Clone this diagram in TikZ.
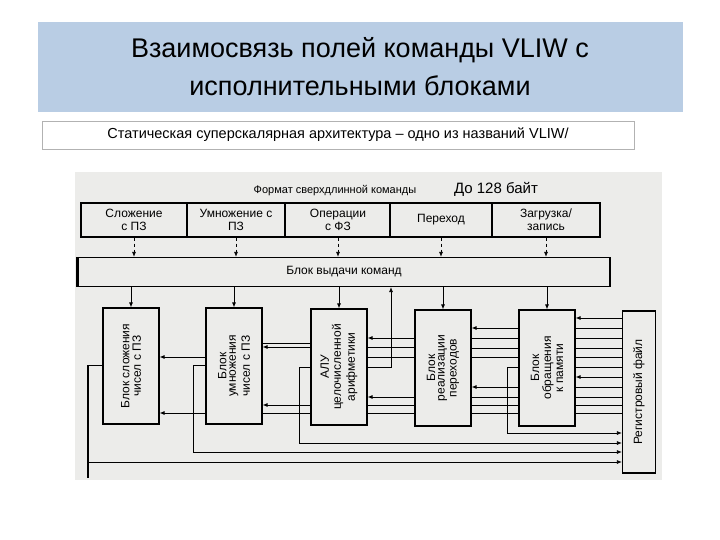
\documentclass[tikz,border=0pt]{standalone}
\usepackage{fontspec}
\setmainfont{Liberation Sans}
\usetikzlibrary{arrows.meta}
\definecolor{titlebg}{RGB}{185,205,228}
\definecolor{paper}{RGB}{236,236,234}
\begin{document}
\begin{tikzpicture}[x=1pt,y=-1pt,
  box/.style={draw,line width=1.2pt,inner sep=0pt,align=center,font=\fontsize{12}{13}\selectfont},
  unit/.style={box,minimum width=56pt,minimum height=116pt},
  ar/.style={-{Latex[length=5pt,width=4pt]},line width=0.8pt},
  ln/.style={line width=0.8pt},
  dar/.style={ar,dashed}]
\useasboundingbox (0,0) rectangle (720,540);
\fill[titlebg] (38,22) rectangle (683,112);
\node (title) at (360,67) [align=center,font=\fontsize{27}{38}\selectfont] {Взаимосвязь полей команды VLIW с\\исполнительными блоками};
\node (sub) at (338,135) [draw=gray!60,fill=white,minimum width=592pt,minimum height=28pt,inner sep=0pt,font=\fontsize{14.5}{16}\selectfont] {Статическая суперскалярная архитектура – одно из названий VLIW/};
\fill[paper] (75,172) rectangle (662,480);
\node (fmt) at (335,191) [font=\fontsize{11}{12}\selectfont] {Формат сверхдлинной команды};
\node (b128) at (496,189) [font=\fontsize{15}{16}\selectfont] {До 128 байт};
\node (f1) at (134,220) [box,minimum width=106pt,minimum height=34pt] {Сложение\\с ПЗ};
\node (f2) at (236,220) [box,minimum width=98pt,minimum height=34pt] {Умножение с\\ПЗ};
\node (f3) at (338,220) [box,minimum width=105pt,minimum height=34pt] {Операции\\с ФЗ};
\node (f4) at (441,220) [box,minimum width=102pt,minimum height=34pt] {Переход};
\node (f5) at (546,220) [box,minimum width=108pt,minimum height=34pt] {Загрузка/\\запись};
\node (blk) at (344,272) [box,minimum width=532pt,minimum height=29pt] {Блок выдачи команд};
\draw[line width=2.5pt] (blk.north west) -- (blk.south west);
\node (u1) at (131,366) [unit] {\rotatebox{90}{\shortstack{Блок сложения\\чисел с ПЗ}}};
\node (u2) at (234,366) [unit] {\rotatebox{90}{\shortstack{Блок\\умножения\\чисел с ПЗ}}};
\node (u3) at (339,367) [unit] {\rotatebox{90}{\shortstack{АЛУ\\целочисленной\\арифметики}}};
\node (u4) at (443,368) [unit] {\rotatebox{90}{\shortstack{Блок\\реализации\\переходов}}};
\node (u5) at (547,368) [unit] {\rotatebox{90}{\shortstack{Блок\\обращения\\к памяти}}};
\node (rf) at (639,392) [box,minimum width=33pt,minimum height=162pt] {\rotatebox{90}{Регистровый файл}};
\coordinate (fb) at (391,367);
\foreach \f/\u in {f1/u1,f2/u2,f3/u3,f4/u4,f5/u5}{
  \draw[dar] (\f.south) -- (\f.south |- blk.north);
  \draw[ar] (\u.north |- blk.south) -- (\u.north);}
\foreach \y in {318,377} \draw[ar] (rf.west |- 0,\y) -- (u5.east |- 0,\y);
\foreach \y in {328,338,348,357,367,387,397,405,413} \draw[ln] (rf.west |- 0,\y) -- (u5.east |- 0,\y);
\foreach \y in {328,387} \draw[ar] (u5.west |- 0,\y) -- (u4.east |- 0,\y);
\foreach \y in {338,348,357,397,405,413} \draw[ln] (u5.west |- 0,\y) -- (u4.east |- 0,\y);
\foreach \y in {338,397} \draw[ar] (u4.west |- 0,\y) -- (u3.east |- 0,\y);
\foreach \y in {347,357,405,413} \draw[ln] (u4.west |- 0,\y) -- (u3.east |- 0,\y);
\foreach \y in {347,405} \draw[ar] (u3.west |- 0,\y) -- (u2.east |- 0,\y);
\foreach \y in {343,413} \draw[ln] (u3.west |- 0,\y) -- (u2.east |- 0,\y);
\foreach \y in {357,413} \draw[ar] (u2.west |- 0,\y) -- (u1.east |- 0,\y);
\draw[ar] (u3.east |- fb) -- (fb) -- (fb |- blk.south);
\draw[ar] (u5.west |- 0,367) -- (507,367) -- (507,433) -- (rf.west |- 0,433);
\draw[ar] (u3.west |- 0,367) -- (299,367) -- (299,443) -- (rf.west |- 0,443);
\draw[ar] (u2.west |- 0,365) -- (193,365) -- (193,452) -- (rf.west |- 0,452);
\draw[ar] (u1.west |- 0,365) -- (87,365) -- (87,462) -- (rf.west |- 0,462);
\draw[line width=2pt] (88,365) -- (88,478);
\end{tikzpicture}
\end{document}
